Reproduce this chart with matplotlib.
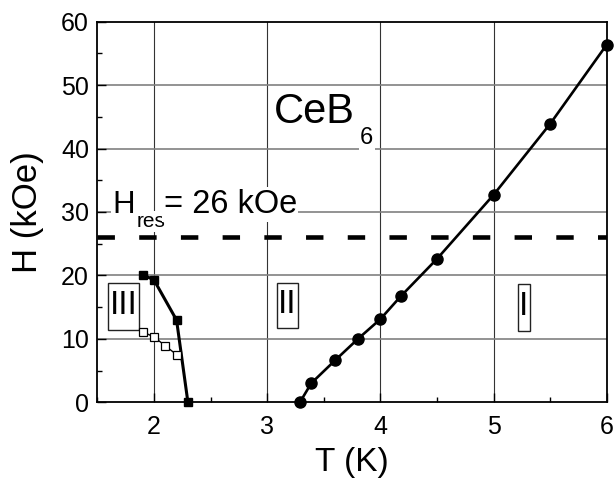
import numpy as np
import matplotlib.pyplot as plt
import matplotlib.patches as patches
from matplotlib.ticker import MultipleLocator

plt.rcParams['font.family'] = ['Liberation Sans', 'DejaVu Sans']

# phase boundary I-II (filled circles)
t_circ = [3.29, 3.39, 3.60, 3.80, 4.0, 4.18, 4.5, 5.0, 5.5, 6.0]
h_circ = [0.0, 3.0, 6.6, 9.95, 13.1, 16.7, 22.6, 32.7, 43.9, 56.4]

# phase boundary II-III (filled squares)
t_sq = [1.90, 2.0, 2.2, 2.30]
h_sq = [20.1, 19.3, 12.95, 0.0]

# open squares
t_open = [1.90, 2.0, 2.1, 2.2]
h_open = [11.1, 10.3, 8.9, 7.5]

h_res = 26
x_ticks = [2, 3, 4, 5, 6]
y_ticks = [0, 10, 20, 30, 40, 50, 60]

# phase labels: name, box (t0, t1, h0, h1)
phases = ['III', 'II', 'I']
phase_boxes = [(1.593, 1.866, 11.4, 18.8),
               (3.083, 3.273, 11.64, 18.84),
               (5.212, 5.320, 11.26, 18.63)]

fig = plt.figure(figsize=(6.16, 4.84), dpi=100)
ax = fig.add_axes([0.158, 0.169, 0.827, 0.786])

for x in [2, 3, 4, 5]:
    ax.axvline(x, color='#333333', lw=0.8, zorder=1)
for y in [10, 20, 30, 40, 50]:
    ax.axhline(y, color='#808080', lw=1.2, zorder=1)

ax.axhline(h_res, color='black', lw=3.3, dashes=(3.8, 5.3), zorder=2)

ax.plot(t_circ, h_circ, '-o', color='black', lw=1.9, ms=8, zorder=4, clip_on=False)
ax.plot(t_sq, h_sq, '-s', color='black', lw=2.2, ms=6, zorder=4, clip_on=False)
ax.plot(t_open, h_open, '-s', color='black', mfc='white', mec='black', lw=1.0, ms=5.5,
        mew=0.9, zorder=4)

ax.set_xlim(1.5, 6)
ax.set_ylim(0, 60)
ax.set_xticks(x_ticks)
ax.set_yticks(y_ticks)
ax.xaxis.set_minor_locator(MultipleLocator(0.5))
ax.yaxis.set_minor_locator(MultipleLocator(5))
ax.tick_params(which='both', direction='in', labelsize=18, width=1)
ax.tick_params(which='major', length=6.5)
ax.tick_params(which='minor', length=3.6)
ax.tick_params(axis='x', pad=9)
ax.tick_params(axis='y', pad=6)
for s in ax.spines.values():
    s.set_linewidth(1.3)

ax.set_xlabel('T (K)', fontsize=24, labelpad=6)
ax.set_ylabel('H (kOe)', fontsize=25, labelpad=12)

wbox = dict(boxstyle='square,pad=0.05', fc='white', ec='none')
ax.text(3.06, 44.0, 'CeB', fontsize=30, bbox=wbox, zorder=3)
ax.text(3.822, 40.74, '6', fontsize=17, bbox=wbox, zorder=3)

ax.text(1.637, 29.84, 'H', fontsize=22.5, bbox=wbox, zorder=3)
ax.text(1.847, 27.7, 'res', fontsize=15, bbox=wbox, zorder=3)
ax.text(2.085, 29.84, '= 26 kOe', fontsize=23.5, bbox=wbox, zorder=3)

for name, (t0, t1, h0, h1) in zip(phases, phase_boxes):
    ax.add_patch(patches.Rectangle((t0, h0), t1 - t0, h1 - h0, fc='white',
                                   ec='#222222', lw=1.0, zorder=3))
    ax.text((t0 + t1) / 2, (h0 + h1) / 2 + 0.2, name, fontsize=24,
            ha='center', va='center', zorder=5)

fig.savefig('out.png', dpi=100)
